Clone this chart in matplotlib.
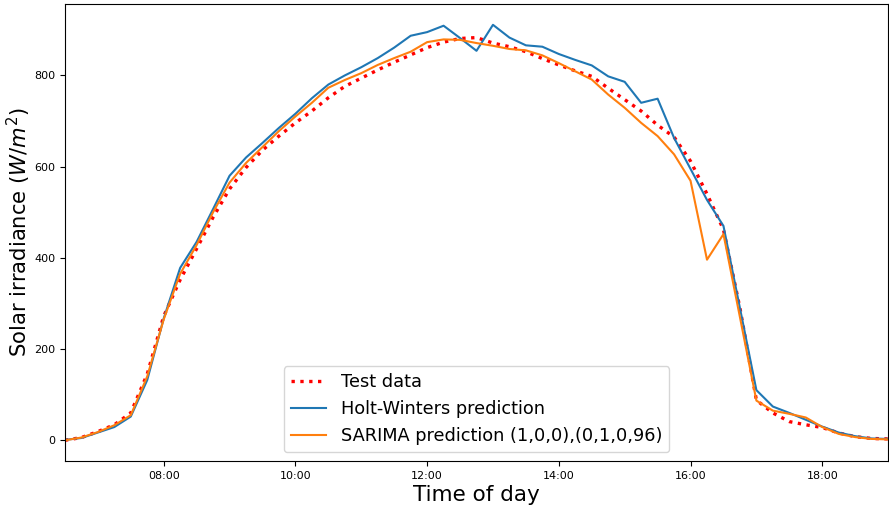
import matplotlib
matplotlib.use("Agg")
import matplotlib.pyplot as plt
import matplotlib.dates as mdates
import pandas as pd

# 15-minute samples, 06:30 -> 19:00
times = pd.date_range("2020-06-01 06:30", "2020-06-01 19:00", freq="15min")

test_data = [0, 6, 19, 34, 60, 145, 272, 352, 420, 489,
             551, 598, 636, 667, 696, 722, 751, 776, 794, 812,
             829, 845, 861, 873, 881, 883, 871, 863, 852, 837,
             823, 810, 798, 772, 747, 722, 691, 665, 612, 540,
             462, 290, 88, 60, 41, 34, 28, 16, 8, 4, 3]

holt_winters = [1, 5, 17, 29, 52, 132, 267, 378, 435, 507,
                580, 620, 652, 685, 716, 750, 780, 800, 818, 838,
                861, 887, 895, 909, 882, 854, 911, 883, 866, 863,
                847, 834, 822, 798, 786, 740, 749, 663, 595, 527,
                470, 290, 110, 74, 60, 45, 30, 17, 9, 4, 3]

sarima = [0, 6, 18, 33, 55, 140, 265, 365, 428, 500,
          565, 608, 643, 678, 710, 740, 773, 790, 805, 823,
          838, 852, 873, 879, 878, 871, 865, 858, 855, 844,
          827, 809, 791, 758, 729, 696, 667, 627, 569, 396,
          452, 270, 87, 65, 58, 50, 29, 14, 7, 3, 2]

fig, ax = plt.subplots(figsize=(8.89, 5.05), dpi=100)
fig.subplots_adjust(left=0.073, right=0.999, top=0.992, bottom=0.087)

ax.plot(times, test_data, ":", color="red", lw=2.4, label="Test data")
ax.plot(times, holt_winters, color="tab:blue", lw=1.5, label="Holt-Winters prediction")
ax.plot(times, sarima, color="tab:orange", lw=1.5, label="SARIMA prediction (1,0,0),(0,1,0,96)")

ax.set_xlim(times[0], times[-1])
ax.xaxis.set_major_locator(mdates.HourLocator(byhour=range(8, 19, 2)))
ax.xaxis.set_major_formatter(mdates.DateFormatter("%H:%M"))
ax.tick_params(labelsize=8)

ax.set_xlabel("Time of day", fontsize=15.5, labelpad=3)
ax.set_ylabel("Solar irradiance ($W/m^2$)", fontsize=15.2, labelpad=1)
ax.legend(loc="lower center", fontsize=12.8)

fig.savefig("out.png", dpi=100)
